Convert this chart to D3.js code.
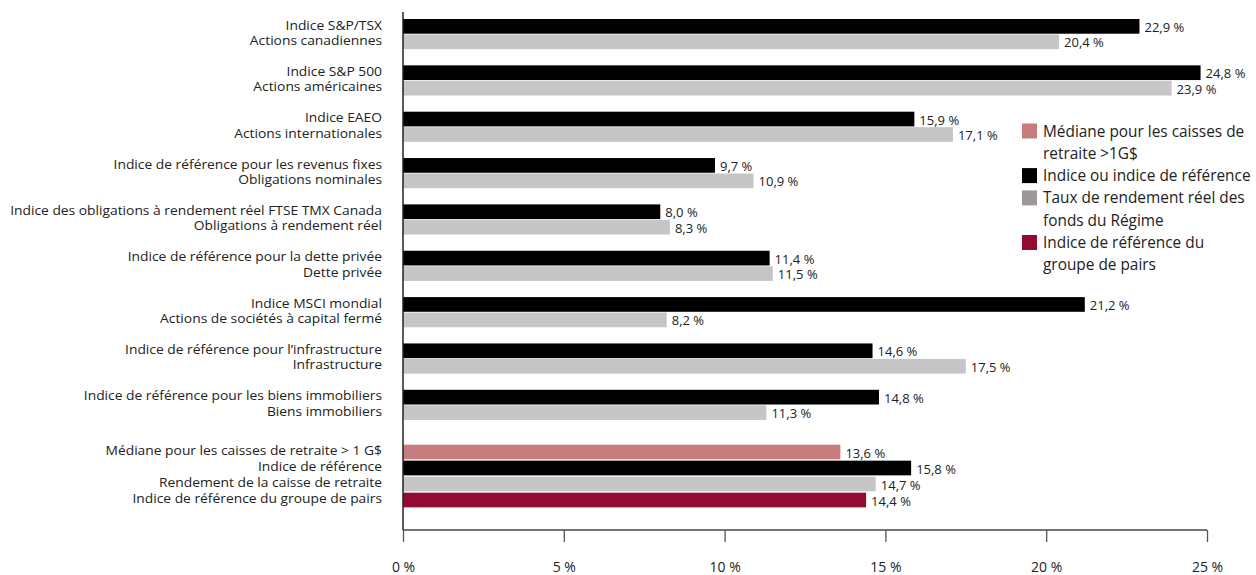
<!DOCTYPE html>
<html>
<head>
<meta charset="utf-8">
<script src="https://cdn.jsdelivr.net/npm/d3@7"></script>
<style>
  body { margin: 0; background: #fff; }
  text { font-family: "Open Sans", sans-serif; fill: #222; }
</style>
</head>
<body>
<div id="chart"></div>
<script>
// asset class groups: first line = benchmark, second line = plan return
var groupLabels = [
  ["Indice S&P/TSX", "Actions canadiennes"],
  ["Indice S&P 500", "Actions américaines"],
  ["Indice EAEO", "Actions internationales"],
  ["Indice de référence pour les revenus fixes", "Obligations nominales"],
  ["Indice des obligations à rendement réel FTSE TMX Canada", "Obligations à rendement réel"],
  ["Indice de référence pour la dette privée", "Dette privée"],
  ["Indice MSCI mondial", "Actions de sociétés à capital fermé"],
  ["Indice de référence pour l’infrastructure", "Infrastructure"],
  ["Indice de référence pour les biens immobiliers", "Biens immobiliers"]
];
var benchmarkValues = [22.9, 24.8, 15.9, 9.7, 8.0, 11.4, 21.2, 14.6, 14.8];
var actualValues = [20.4, 23.9, 17.1, 10.9, 8.3, 11.5, 8.2, 17.5, 11.3];

// total fund group
var totalLabels = [
  "Médiane pour les caisses de retraite > 1 G$",
  "Indice de référence",
  "Rendement de la caisse de retraite",
  "Indice de référence du groupe de pairs"
];
var totalValues = [13.6, 15.8, 14.7, 14.4];
var totalKeys = ["median", "bench", "actual", "peer"];

var xTicks = [0, 5, 10, 15, 20, 25];

var legendItems = [
  { key: "median", lines: ["Médiane pour les caisses de", "retraite >1G$"] },
  { key: "bench", lines: ["Indice ou indice de référence"] },
  { key: "legendGray", lines: ["Taux de rendement réel des", "fonds du Régime"] },
  { key: "peer", lines: ["Indice de référence du", "groupe de pairs"] }
];

var colours = {
  median: "#c77c7e",
  bench: "#000000",
  actual: "#c6c6c8",
  legendGray: "#9e9797",
  peer: "#930a32"
};

var width = 1256, height = 575;
var x0 = 403, x1 = 1207, axisY = 530;
var barH = 14.7;

var svg = d3.select("#chart").append("svg")
  .attr("width", width)
  .attr("height", height);

var x = d3.scaleLinear().domain([0, 25]).range([x0, x1]);
// one unit = one bar row
var row = d3.scaleLinear().domain([0, 1]).range([19, 34.45]);

var fmt = d3.formatLocale({ decimal: ",", thousands: " ", grouping: [3], currency: ["", "$"] }).format(".1f");

// flatten to bar records
var bars = [];
groupLabels.forEach(function(lbl, g) {
  bars.push({ label: lbl[0], value: benchmarkValues[g], key: "bench", r: g * 3 });
  bars.push({ label: lbl[1], value: actualValues[g], key: "actual", r: g * 3 + 1 });
});
totalLabels.forEach(function(lbl, i) {
  bars.push({ label: lbl, value: totalValues[i], key: totalKeys[i], r: 27.55 + i * 1.036 });
});

svg.append("g").selectAll("rect")
  .data(bars)
  .enter().append("rect")
  .attr("x", x(0))
  .attr("y", function(d) { return row(d.r); })
  .attr("width", function(d) { return x(d.value) - x(0); })
  .attr("height", barH)
  .attr("fill", function(d) { return colours[d.key]; });

// value labels
svg.append("g").selectAll("text")
  .data(bars)
  .enter().append("text")
  .attr("transform", function(d) {
    return "translate(" + (x(d.value) + 5) + "," + (row(d.r) + barH / 2) + ") scale(1.05,1)";
  })
  .attr("dy", "0.45em")
  .style("font-size", "12.4px")
  .text(function(d) { return fmt(d.value) + " %"; });

// category labels (stretched a little to match the original's wide face)
svg.append("g").selectAll("text")
  .data(bars)
  .enter().append("text")
  .attr("transform", function(d) {
    return "translate(382," + (row(d.r) + barH / 2) + ") scale(1.08,1)";
  })
  .attr("dy", "0.25em")
  .attr("text-anchor", "end")
  .style("font-size", "12.8px")
  .text(function(d) { return d.label; });

// x axis
var xAxis = d3.axisBottom(x)
  .tickValues(xTicks)
  .tickSize(12)
  .tickPadding(20)
  .tickFormat(function(d) { return d + " %"; });

var gx = svg.append("g")
  .attr("transform", "translate(0," + axisY + ")")
  .call(xAxis);
gx.select(".domain").attr("stroke", "#444").attr("stroke-width", 1.5)
  .attr("d", "M" + x0 + ",0H" + x1);
gx.selectAll(".tick line").attr("stroke", "#555").attr("stroke-width", 1.3);
gx.selectAll(".tick text").style("font-size", "14px").attr("fill", "#222")
  .style("font-family", "'Open Sans', sans-serif");

// vertical axis line
svg.append("line")
  .attr("x1", x0).attr("x2", x0)
  .attr("y1", 12).attr("y2", axisY)
  .attr("stroke", "#222")
  .attr("stroke-width", 1.5);

// legend
var legend = svg.append("g").attr("transform", "translate(1022,0)");
var ly = 131, lineH = 22.3;
legendItems.forEach(function(item) {
  legend.append("rect")
    .attr("x", 0).attr("y", ly - 7.5)
    .attr("width", 15).attr("height", 15)
    .attr("fill", colours[item.key]);
  item.lines.forEach(function(t, j) {
    legend.append("text")
      .attr("x", 21)
      .attr("y", ly + j * lineH)
      .attr("dy", "0.36em")
      .style("font-size", "15.4px")
      .text(t);
  });
  ly += item.lines.length * lineH;
});
</script>
</body>
</html>
